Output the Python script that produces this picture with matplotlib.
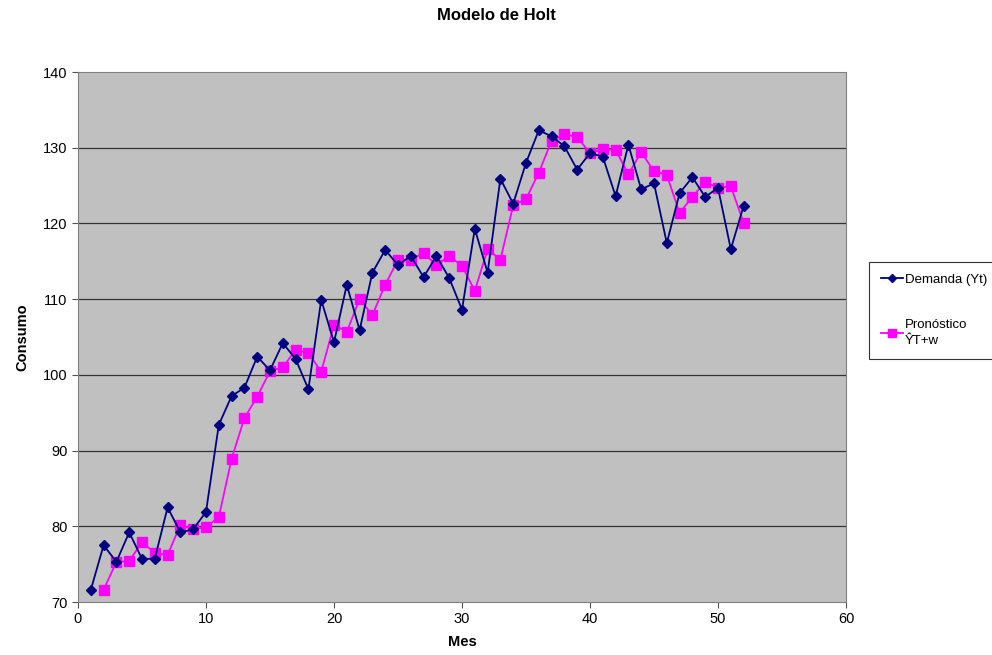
import matplotlib.pyplot as plt

plt.rcParams['font.family'] = ['Liberation Sans', 'DejaVu Sans']

mes = list(range(1, 53))
demanda = [71.6, 77.5, 75.3, 79.2, 75.7, 75.7, 82.5, 79.2, 79.6, 81.9,
           93.4, 97.2, 98.3, 102.4, 100.6, 104.2, 102.1, 98.1, 109.9, 104.3,
           111.9, 105.9, 113.5, 116.5, 114.5, 115.7, 112.9, 115.7, 112.8, 108.6,
           119.3, 113.5, 125.9, 122.6, 128.0, 132.3, 131.5, 130.2, 127.1, 129.3,
           128.8, 123.6, 130.4, 124.5, 125.3, 117.4, 124.0, 126.1, 123.5, 124.7,
           116.6, 122.3]

mes_pron = list(range(2, 53))
pronostico = [71.6, 75.3, 75.4, 77.9, 76.5, 76.2, 80.2, 79.6, 79.9, 81.2,
              88.9, 94.3, 97.1, 100.5, 101.0, 103.3, 102.9, 100.4, 106.6, 105.7,
              110.0, 107.9, 111.9, 115.2, 115.2, 116.1, 114.5, 115.7, 114.4, 111.1,
              116.6, 115.2, 122.4, 123.2, 126.7, 130.9, 131.8, 131.4, 129.3, 129.8,
              129.7, 126.5, 129.4, 126.9, 126.4, 121.4, 123.5, 125.5, 124.7, 124.9,
              120.1]

fig = plt.figure(figsize=(9.92, 6.55), dpi=100)
ax = fig.add_axes([78 / 992, 1 - 602 / 655, 768 / 992, 530 / 655])
ax.set_facecolor('#C0C0C0')

for y in range(80, 140, 10):
    ax.axhline(y, color='#333333', lw=0.9, zorder=1)

ax.plot(mes, demanda, color='#000080', marker='D', markersize=5, lw=1.3,
        label='Demanda (Yt)', zorder=3)
ax.plot(mes_pron, pronostico, color='#FF00FF', marker='s', markersize=7, lw=1.3,
        label='Pronóstico\nŶT+w', zorder=2)

ax.set_xlim(0, 60)
ax.set_ylim(70, 140)
ax.set_xticks(range(0, 61, 10))
ax.set_yticks(range(70, 141, 10))
ax.tick_params(direction='out', length=4, labelsize=10.5, color='#555555')
for s in ax.spines.values():
    s.set_color('#808080')

ax.set_xlabel('Mes', fontsize=10.5, fontweight='bold', labelpad=6)
ax.set_ylabel('Consumo', fontsize=10.5, fontweight='bold', labelpad=10)
fig.text(0.5, 1 - 15 / 655, 'Modelo de Holt', ha='center', va='center',
         fontsize=12, fontweight='bold')

leg = fig.legend(loc='upper left', bbox_to_anchor=(869 / 992, 1 - 262 / 655),
                 fontsize=9.5, frameon=True, fancybox=False, labelspacing=2.5,
                 handlelength=1.7, handletextpad=0.1, borderpad=0.9,
                 borderaxespad=0, markerscale=0.85)
for t in leg.get_texts():
    t.set_linespacing(1.4)
leg.get_frame().set_edgecolor('black')
leg.get_frame().set_linewidth(0.8)

fig.savefig('out.png', dpi=100)
